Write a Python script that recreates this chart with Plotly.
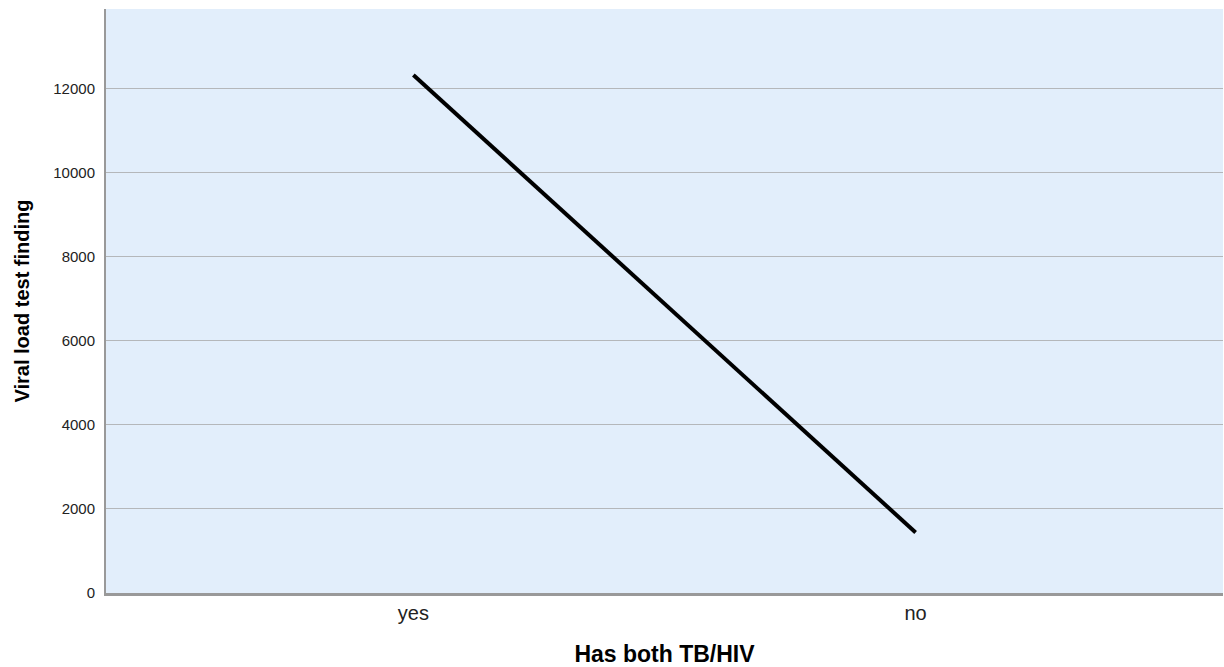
import plotly.graph_objects as go

categories = ["yes", "no"]
values = [12320, 1440]
y_ticks = [0, 2000, 4000, 6000, 8000, 10000, 12000]

fig = go.Figure()
fig.add_trace(go.Scatter(
    x=[0, 1], y=values, mode="lines",
    line=dict(color="black", width=4),
    showlegend=False, hoverinfo="skip",
))

fig.update_layout(
    width=1224, height=667,
    margin=dict(l=106, r=1, t=9, b=74),
    paper_bgcolor="white",
    plot_bgcolor="#E2EEFB",
    font=dict(family="Liberation Sans, Arial, sans-serif", color="#222"),
)
fig.update_xaxes(
    tickmode="array", tickvals=[0, 1], ticktext=categories,
    range=[-0.612, 1.612],
    showgrid=False, zeroline=False,
    showline=True, linecolor="#999999", linewidth=3,
    ticks="", tickfont=dict(size=20, color="#222"),
    title=dict(text="<b>Has both TB/HIV</b>", font=dict(size=23, color="black"), standoff=24),
)
fig.update_yaxes(
    tickmode="array", tickvals=y_ticks, tickformat="d",
    range=[0, 13890],
    showgrid=True, gridcolor="#B4B7BA", gridwidth=1,
    zeroline=False,
    showline=True, linecolor="#999999", linewidth=2,
    ticks="", tickfont=dict(size=15, color="#222"), ticklabelstandoff=6,
    title=dict(text="<b>Viral load test finding</b>", font=dict(size=20, color="black"), standoff=18),
)

fig.write_html(
    "out.html",
    config={"displayModeBar": False},
    post_script="document.body.style.margin='0px';document.body.style.overflow='hidden';",
)
